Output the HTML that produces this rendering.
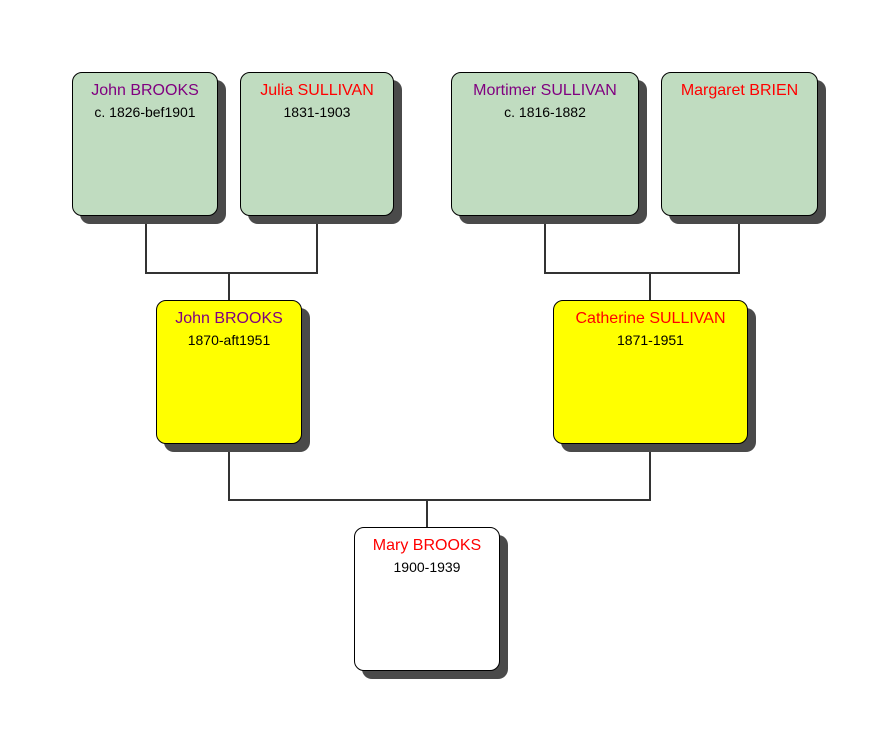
<!DOCTYPE html>
<html><head><style>
body{margin:0;width:890px;height:743px;background:#fff;position:relative;overflow:hidden;font-family:"Liberation Sans",sans-serif}
.b{position:absolute;border:1px solid #000;border-radius:10px;box-shadow:8px 8px 0 #4a4a4a;text-align:center;box-sizing:border-box}
.g{background:#c0dcc0}.y{background:#ffff00}.w{background:#fff}
.n{font-size:16px;margin-top:8px;line-height:19px}
.d{font-size:14px;margin-top:4px;color:#000}
.p{color:#800080}.r{color:#ff0000}
.l{position:absolute;background:#333}
</style></head><body>
<div class="l" style="left:145px;top:215px;width:2px;height:59px"></div>
<div class="l" style="left:316px;top:215px;width:2px;height:59px"></div>
<div class="l" style="left:145px;top:272px;width:173px;height:2px"></div>
<div class="l" style="left:228px;top:272px;width:2px;height:28px"></div>
<div class="l" style="left:544px;top:215px;width:2px;height:59px"></div>
<div class="l" style="left:738px;top:215px;width:2px;height:59px"></div>
<div class="l" style="left:544px;top:272px;width:196px;height:2px"></div>
<div class="l" style="left:649px;top:272px;width:2px;height:28px"></div>
<div class="l" style="left:228px;top:443px;width:2px;height:58px"></div>
<div class="l" style="left:649px;top:443px;width:2px;height:58px"></div>
<div class="l" style="left:228px;top:499px;width:423px;height:2px"></div>
<div class="l" style="left:426px;top:499px;width:2px;height:28px"></div>

<div class="b g" style="left:72px;top:72px;width:146px;height:144px"><div class="n p">John BROOKS</div><div class="d">c. 1826-bef1901</div></div>
<div class="b g" style="left:240px;top:72px;width:154px;height:144px"><div class="n r">Julia SULLIVAN</div><div class="d">1831-1903</div></div>
<div class="b g" style="left:451px;top:72px;width:188px;height:144px"><div class="n p">Mortimer SULLIVAN</div><div class="d">c. 1816-1882</div></div>
<div class="b g" style="left:661px;top:72px;width:157px;height:144px"><div class="n r">Margaret BRIEN</div></div>
<div class="b y" style="left:156px;top:300px;width:146px;height:144px"><div class="n p">John BROOKS</div><div class="d">1870-aft1951</div></div>
<div class="b y" style="left:553px;top:300px;width:195px;height:144px"><div class="n r">Catherine SULLIVAN</div><div class="d">1871-1951</div></div>
<div class="b w" style="left:354px;top:527px;width:146px;height:144px"><div class="n r">Mary BROOKS</div><div class="d">1900-1939</div></div>
</body></html>
